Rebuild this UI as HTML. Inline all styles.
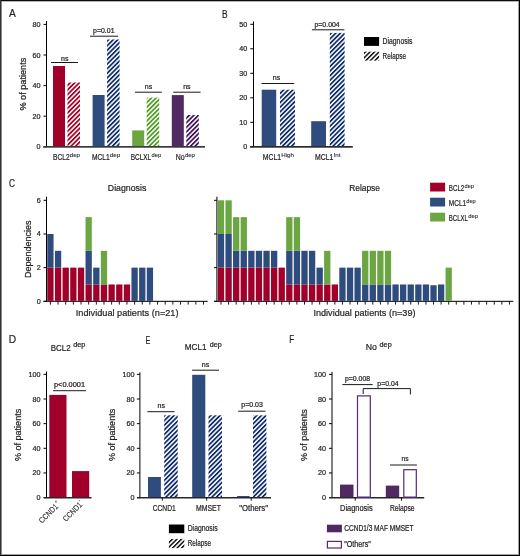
<!DOCTYPE html>
<html><head><meta charset="utf-8"><title>Figure</title>
<style>html,body{margin:0;padding:0;background:#fff;} body{width:520px;height:556px;overflow:hidden;font-family:"Liberation Sans", sans-serif;} svg{display:block;will-change:transform;} text{stroke:#231f20;stroke-width:0.22px;} text.sm{stroke-width:0.08px;} text.md{stroke-width:0.12px;}</style>
</head><body>
<svg width="520" height="556" viewBox="0 0 520 556" font-family="Liberation Sans, sans-serif">
<defs>
<pattern id="hR" width="3.25" height="3.25" patternUnits="userSpaceOnUse" patternTransform="rotate(45)"><rect width="1.75" height="3.25" fill="#a80024"/></pattern>
<pattern id="hB" width="3.25" height="3.25" patternUnits="userSpaceOnUse" patternTransform="rotate(45)"><rect width="1.75" height="3.25" fill="#0e2c6c"/></pattern>
<pattern id="hG" width="3.25" height="3.25" patternUnits="userSpaceOnUse" patternTransform="rotate(45)"><rect width="1.75" height="3.25" fill="#4e9b22"/></pattern>
<pattern id="hP" width="3.25" height="3.25" patternUnits="userSpaceOnUse" patternTransform="rotate(45)"><rect width="1.75" height="3.25" fill="#3c1258"/></pattern>
<pattern id="hK" width="3.2" height="3.2" patternUnits="userSpaceOnUse" patternTransform="rotate(45)"><rect width="1.4" height="3.2" fill="#000"/></pattern>
</defs>
<rect width="520" height="556" fill="#fff"/>
<text x="9.00" y="16.90" font-size="11.8" text-anchor="start" fill="#231f20" textLength="6.80" lengthAdjust="spacingAndGlyphs">A</text>
<line x1="46.5" y1="21" x2="46.5" y2="147.3" stroke="#000" stroke-width="1"/>
<line x1="43.5" y1="146.8" x2="46.5" y2="146.8" stroke="#000" stroke-width="1"/>
<text x="40.50" y="149.30" font-size="7.2" text-anchor="end" fill="#231f20">0</text>
<line x1="43.5" y1="116.20000000000002" x2="46.5" y2="116.20000000000002" stroke="#000" stroke-width="1"/>
<text x="40.50" y="118.70" font-size="7.2" text-anchor="end" fill="#231f20">20</text>
<line x1="43.5" y1="85.60000000000001" x2="46.5" y2="85.60000000000001" stroke="#000" stroke-width="1"/>
<text x="40.50" y="88.10" font-size="7.2" text-anchor="end" fill="#231f20">40</text>
<line x1="43.5" y1="55.000000000000014" x2="46.5" y2="55.000000000000014" stroke="#000" stroke-width="1"/>
<text x="40.50" y="57.50" font-size="7.2" text-anchor="end" fill="#231f20">60</text>
<line x1="43.5" y1="24.400000000000006" x2="46.5" y2="24.400000000000006" stroke="#000" stroke-width="1"/>
<text x="40.50" y="26.90" font-size="7.2" text-anchor="end" fill="#231f20">80</text>
<rect x="43.30" y="146.00" width="161.70" height="1.70" fill="#383838"/>
<text x="0" y="0" transform="translate(26.20,84.15) rotate(-90)" font-size="8.3" text-anchor="middle" fill="#231f20" textLength="52.90" lengthAdjust="spacingAndGlyphs">% of patients</text>
<rect x="53.00" y="66.00" width="12.00" height="80.10" fill="#a1002b"/>
<rect x="67.50" y="82.50" width="12.50" height="63.60" fill="url(#hR)"/>
<rect x="92.60" y="95.00" width="12.00" height="51.10" fill="#2e4c7e"/>
<rect x="107.10" y="39.50" width="12.50" height="106.60" fill="url(#hB)"/>
<rect x="132.20" y="130.40" width="12.00" height="15.70" fill="#6ca643"/>
<rect x="146.70" y="97.60" width="12.50" height="48.50" fill="url(#hG)"/>
<rect x="171.80" y="95.10" width="12.00" height="51.00" fill="#502862"/>
<rect x="186.30" y="115.00" width="12.50" height="31.10" fill="url(#hP)"/>
<line x1="51" y1="62.5" x2="78" y2="62.5" stroke="#1a1a1a" stroke-width="1.0"/>
<line x1="90" y1="36.2" x2="118" y2="36.2" stroke="#1a1a1a" stroke-width="1.0"/>
<line x1="135" y1="92.2" x2="161.8" y2="92.2" stroke="#1a1a1a" stroke-width="1.0"/>
<line x1="173.2" y1="92.2" x2="200.6" y2="92.2" stroke="#1a1a1a" stroke-width="1.0"/>
<text x="64.70" y="60.60" font-size="7.0" text-anchor="middle" fill="#231f20" textLength="7.40" lengthAdjust="spacingAndGlyphs">ns</text>
<text x="103.80" y="33.00" font-size="6.6" text-anchor="middle" fill="#231f20" textLength="21.50" lengthAdjust="spacingAndGlyphs">p=0.01</text>
<text x="148.50" y="89.30" font-size="7.0" text-anchor="middle" fill="#231f20" textLength="7.40" lengthAdjust="spacingAndGlyphs">ns</text>
<text x="186.90" y="89.30" font-size="7.0" text-anchor="middle" fill="#231f20" textLength="7.40" lengthAdjust="spacingAndGlyphs">ns</text>
<text x="53.00" y="160.00" font-size="8.3" text-anchor="start" fill="#231f20" textLength="16.60" lengthAdjust="spacingAndGlyphs">BCL2</text>
<text x="69.80" y="157.20" font-size="5.6" text-anchor="start" fill="#231f20" textLength="10.20" lengthAdjust="spacingAndGlyphs" class="sm">dep</text>
<text x="91.90" y="160.00" font-size="8.3" text-anchor="start" fill="#231f20" textLength="17.70" lengthAdjust="spacingAndGlyphs">MCL1</text>
<text x="109.80" y="157.20" font-size="5.6" text-anchor="start" fill="#231f20" textLength="10.60" lengthAdjust="spacingAndGlyphs" class="sm">dep</text>
<text x="130.80" y="160.00" font-size="8.3" text-anchor="start" fill="#231f20" textLength="20.40" lengthAdjust="spacingAndGlyphs">BCLXL</text>
<text x="151.40" y="157.20" font-size="5.6" text-anchor="start" fill="#231f20" textLength="9.80" lengthAdjust="spacingAndGlyphs" class="sm">dep</text>
<text x="175.80" y="160.00" font-size="8.3" text-anchor="start" fill="#231f20" textLength="8.90" lengthAdjust="spacingAndGlyphs">No</text>
<text x="184.90" y="157.20" font-size="5.6" text-anchor="start" fill="#231f20" textLength="10.10" lengthAdjust="spacingAndGlyphs" class="sm">dep</text>
<text x="222.00" y="18.30" font-size="11.8" text-anchor="start" fill="#231f20" textLength="5.60" lengthAdjust="spacingAndGlyphs">B</text>
<line x1="253.5" y1="21.4" x2="253.5" y2="147.3" stroke="#000" stroke-width="1"/>
<line x1="250.3" y1="146.8" x2="253.5" y2="146.8" stroke="#000" stroke-width="1"/>
<text x="247.20" y="149.30" font-size="7.2" text-anchor="end" fill="#231f20">0</text>
<line x1="250.3" y1="122.30000000000001" x2="253.5" y2="122.30000000000001" stroke="#000" stroke-width="1"/>
<text x="247.20" y="124.80" font-size="7.2" text-anchor="end" fill="#231f20">10</text>
<line x1="250.3" y1="97.80000000000001" x2="253.5" y2="97.80000000000001" stroke="#000" stroke-width="1"/>
<text x="247.20" y="100.30" font-size="7.2" text-anchor="end" fill="#231f20">20</text>
<line x1="250.3" y1="73.30000000000001" x2="253.5" y2="73.30000000000001" stroke="#000" stroke-width="1"/>
<text x="247.20" y="75.80" font-size="7.2" text-anchor="end" fill="#231f20">30</text>
<line x1="250.3" y1="48.80000000000001" x2="253.5" y2="48.80000000000001" stroke="#000" stroke-width="1"/>
<text x="247.20" y="51.30" font-size="7.2" text-anchor="end" fill="#231f20">40</text>
<line x1="250.3" y1="24.299999999999997" x2="253.5" y2="24.299999999999997" stroke="#000" stroke-width="1"/>
<text x="247.20" y="26.80" font-size="7.2" text-anchor="end" fill="#231f20">50</text>
<rect x="250.10" y="146.00" width="102.70" height="1.70" fill="#2a2a2a"/>
<rect x="261.70" y="89.70" width="14.50" height="56.40" fill="#2e4c7e"/>
<rect x="280.00" y="89.70" width="15.00" height="56.40" fill="url(#hB)"/>
<rect x="311.20" y="121.20" width="14.80" height="24.90" fill="#2e4c7e"/>
<rect x="329.80" y="32.90" width="14.80" height="113.20" fill="url(#hB)"/>
<line x1="261.5" y1="83.5" x2="294.2" y2="83.5" stroke="#1a1a1a" stroke-width="1.0"/>
<line x1="311.9" y1="29.8" x2="344.4" y2="29.8" stroke="#1a1a1a" stroke-width="1.0"/>
<text x="276.50" y="80.20" font-size="7.0" text-anchor="middle" fill="#231f20" textLength="7.40" lengthAdjust="spacingAndGlyphs">ns</text>
<text x="327.10" y="26.80" font-size="6.6" text-anchor="middle" fill="#231f20" textLength="25.30" lengthAdjust="spacingAndGlyphs">p=0.004</text>
<text x="262.80" y="159.80" font-size="8.3" text-anchor="start" fill="#231f20" textLength="18.20" lengthAdjust="spacingAndGlyphs">MCL1</text>
<text x="281.20" y="157.00" font-size="5.6" text-anchor="start" fill="#231f20" textLength="12.80" lengthAdjust="spacingAndGlyphs" class="sm">High</text>
<text x="315.00" y="159.80" font-size="8.3" text-anchor="start" fill="#231f20" textLength="18.40" lengthAdjust="spacingAndGlyphs">MCL1</text>
<text x="333.60" y="157.00" font-size="5.6" text-anchor="start" fill="#231f20" textLength="7.00" lengthAdjust="spacingAndGlyphs" class="sm">Int</text>
<rect x="364.00" y="37.00" width="15.10" height="8.90" fill="#000"/>
<rect x="364.00" y="51.70" width="15.10" height="8.90" fill="url(#hK)"/>
<text x="382.60" y="43.90" font-size="8.4" text-anchor="start" fill="#231f20" textLength="29.90" lengthAdjust="spacingAndGlyphs">Diagnosis</text>
<text x="382.60" y="58.90" font-size="8.4" text-anchor="start" fill="#231f20" textLength="23.40" lengthAdjust="spacingAndGlyphs">Relapse</text>
<text x="9.00" y="187.10" font-size="11.8" text-anchor="start" fill="#231f20" textLength="6.00" lengthAdjust="spacingAndGlyphs">C</text>
<line x1="46.5" y1="196.7" x2="46.5" y2="301.8" stroke="#000" stroke-width="1"/>
<line x1="43.5" y1="301.3" x2="46.5" y2="301.3" stroke="#000" stroke-width="1"/>
<text x="40.80" y="303.80" font-size="7.2" text-anchor="end" fill="#231f20">0</text>
<line x1="43.5" y1="267.64" x2="46.5" y2="267.64" stroke="#000" stroke-width="1"/>
<text x="40.80" y="270.14" font-size="7.2" text-anchor="end" fill="#231f20">2</text>
<line x1="43.5" y1="233.98000000000002" x2="46.5" y2="233.98000000000002" stroke="#000" stroke-width="1"/>
<text x="40.80" y="236.48" font-size="7.2" text-anchor="end" fill="#231f20">4</text>
<line x1="43.5" y1="200.32000000000002" x2="46.5" y2="200.32000000000002" stroke="#000" stroke-width="1"/>
<text x="40.80" y="202.82" font-size="7.2" text-anchor="end" fill="#231f20">6</text>
<rect x="43.50" y="300.80" width="164.20" height="1.10" fill="#151515"/>
<text x="0" y="0" transform="translate(31.00,249.20) rotate(-90)" font-size="9.6" text-anchor="middle" fill="#231f20" textLength="57.60" lengthAdjust="spacingAndGlyphs">Dependencies</text>
<rect x="47.25" y="267.64" width="6.30" height="33.26" fill="#a1002b"/>
<rect x="47.25" y="233.98" width="6.30" height="33.66" fill="#2e4c7e"/>
<line x1="50.4" y1="301.3" x2="50.4" y2="304.6" stroke="#000" stroke-width="0.9"/>
<rect x="54.91" y="267.64" width="6.30" height="33.26" fill="#a1002b"/>
<rect x="54.91" y="250.81" width="6.30" height="16.83" fill="#2e4c7e"/>
<line x1="58.055" y1="301.3" x2="58.055" y2="304.6" stroke="#000" stroke-width="0.9"/>
<rect x="62.56" y="267.64" width="6.30" height="33.26" fill="#a1002b"/>
<line x1="65.71" y1="301.3" x2="65.71" y2="304.6" stroke="#000" stroke-width="0.9"/>
<rect x="70.21" y="267.64" width="6.30" height="33.26" fill="#a1002b"/>
<line x1="73.365" y1="301.3" x2="73.365" y2="304.6" stroke="#000" stroke-width="0.9"/>
<rect x="77.87" y="267.64" width="6.30" height="33.26" fill="#a1002b"/>
<line x1="81.02" y1="301.3" x2="81.02" y2="304.6" stroke="#000" stroke-width="0.9"/>
<rect x="85.52" y="284.47" width="6.30" height="16.43" fill="#a1002b"/>
<rect x="85.52" y="250.81" width="6.30" height="33.66" fill="#2e4c7e"/>
<rect x="85.52" y="217.15" width="6.30" height="33.66" fill="#6ca643"/>
<line x1="88.675" y1="301.3" x2="88.675" y2="304.6" stroke="#000" stroke-width="0.9"/>
<rect x="93.18" y="284.47" width="6.30" height="16.43" fill="#a1002b"/>
<rect x="93.18" y="267.64" width="6.30" height="16.83" fill="#2e4c7e"/>
<line x1="96.33" y1="301.3" x2="96.33" y2="304.6" stroke="#000" stroke-width="0.9"/>
<rect x="100.83" y="284.47" width="6.30" height="16.43" fill="#a1002b"/>
<rect x="100.83" y="250.81" width="6.30" height="33.66" fill="#6ca643"/>
<line x1="103.985" y1="301.3" x2="103.985" y2="304.6" stroke="#000" stroke-width="0.9"/>
<rect x="108.49" y="284.47" width="6.30" height="16.43" fill="#a1002b"/>
<line x1="111.64" y1="301.3" x2="111.64" y2="304.6" stroke="#000" stroke-width="0.9"/>
<rect x="116.14" y="284.47" width="6.30" height="16.43" fill="#a1002b"/>
<line x1="119.29499999999999" y1="301.3" x2="119.29499999999999" y2="304.6" stroke="#000" stroke-width="0.9"/>
<rect x="123.80" y="284.47" width="6.30" height="16.43" fill="#a1002b"/>
<line x1="126.94999999999999" y1="301.3" x2="126.94999999999999" y2="304.6" stroke="#000" stroke-width="0.9"/>
<rect x="131.45" y="267.64" width="6.30" height="33.26" fill="#2e4c7e"/>
<line x1="134.605" y1="301.3" x2="134.605" y2="304.6" stroke="#000" stroke-width="0.9"/>
<rect x="139.11" y="267.64" width="6.30" height="33.26" fill="#2e4c7e"/>
<line x1="142.26" y1="301.3" x2="142.26" y2="304.6" stroke="#000" stroke-width="0.9"/>
<rect x="146.76" y="267.64" width="6.30" height="33.26" fill="#2e4c7e"/>
<line x1="149.915" y1="301.3" x2="149.915" y2="304.6" stroke="#000" stroke-width="0.9"/>
<line x1="157.57" y1="301.3" x2="157.57" y2="304.6" stroke="#000" stroke-width="0.9"/>
<line x1="165.225" y1="301.3" x2="165.225" y2="304.6" stroke="#000" stroke-width="0.9"/>
<line x1="172.88" y1="301.3" x2="172.88" y2="304.6" stroke="#000" stroke-width="0.9"/>
<line x1="180.535" y1="301.3" x2="180.535" y2="304.6" stroke="#000" stroke-width="0.9"/>
<line x1="188.19" y1="301.3" x2="188.19" y2="304.6" stroke="#000" stroke-width="0.9"/>
<line x1="195.845" y1="301.3" x2="195.845" y2="304.6" stroke="#000" stroke-width="0.9"/>
<line x1="203.5" y1="301.3" x2="203.5" y2="304.6" stroke="#000" stroke-width="0.9"/>
<text x="127.10" y="191.20" font-size="9.6" text-anchor="middle" fill="#231f20" textLength="38.50" lengthAdjust="spacingAndGlyphs">Diagnosis</text>
<text x="75.80" y="316.20" font-size="9.9" text-anchor="start" fill="#231f20" textLength="102.70" lengthAdjust="spacingAndGlyphs">Individual patients (n=21)</text>
<line x1="216.9" y1="196.8" x2="216.9" y2="301.8" stroke="#333" stroke-width="1.3"/>
<line x1="214" y1="301.3" x2="216.9" y2="301.3" stroke="#000" stroke-width="1"/>
<line x1="214" y1="267.64" x2="216.9" y2="267.64" stroke="#000" stroke-width="1"/>
<line x1="214" y1="233.98000000000002" x2="216.9" y2="233.98000000000002" stroke="#000" stroke-width="1"/>
<line x1="214" y1="200.32000000000002" x2="216.9" y2="200.32000000000002" stroke="#000" stroke-width="1"/>
<rect x="214.50" y="300.80" width="298.80" height="1.10" fill="#151515"/>
<rect x="217.85" y="267.64" width="6.30" height="33.26" fill="#a1002b"/>
<rect x="217.85" y="233.98" width="6.30" height="33.66" fill="#2e4c7e"/>
<rect x="217.85" y="200.32" width="6.30" height="33.66" fill="#6ca643"/>
<line x1="221.0" y1="301.3" x2="221.0" y2="304.6" stroke="#000" stroke-width="0.9"/>
<rect x="225.44" y="267.64" width="6.30" height="33.26" fill="#a1002b"/>
<rect x="225.44" y="233.98" width="6.30" height="33.66" fill="#2e4c7e"/>
<rect x="225.44" y="200.32" width="6.30" height="33.66" fill="#6ca643"/>
<line x1="228.59" y1="301.3" x2="228.59" y2="304.6" stroke="#000" stroke-width="0.9"/>
<rect x="233.03" y="267.64" width="6.30" height="33.26" fill="#a1002b"/>
<rect x="233.03" y="250.81" width="6.30" height="16.83" fill="#2e4c7e"/>
<rect x="233.03" y="217.15" width="6.30" height="33.66" fill="#6ca643"/>
<line x1="236.18" y1="301.3" x2="236.18" y2="304.6" stroke="#000" stroke-width="0.9"/>
<rect x="240.62" y="267.64" width="6.30" height="33.26" fill="#a1002b"/>
<rect x="240.62" y="250.81" width="6.30" height="16.83" fill="#2e4c7e"/>
<rect x="240.62" y="217.15" width="6.30" height="33.66" fill="#6ca643"/>
<line x1="243.77" y1="301.3" x2="243.77" y2="304.6" stroke="#000" stroke-width="0.9"/>
<rect x="248.21" y="267.64" width="6.30" height="33.26" fill="#a1002b"/>
<rect x="248.21" y="250.81" width="6.30" height="16.83" fill="#2e4c7e"/>
<line x1="251.36" y1="301.3" x2="251.36" y2="304.6" stroke="#000" stroke-width="0.9"/>
<rect x="255.80" y="267.64" width="6.30" height="33.26" fill="#a1002b"/>
<rect x="255.80" y="250.81" width="6.30" height="16.83" fill="#2e4c7e"/>
<line x1="258.95" y1="301.3" x2="258.95" y2="304.6" stroke="#000" stroke-width="0.9"/>
<rect x="263.39" y="267.64" width="6.30" height="33.26" fill="#a1002b"/>
<rect x="263.39" y="250.81" width="6.30" height="16.83" fill="#2e4c7e"/>
<line x1="266.54" y1="301.3" x2="266.54" y2="304.6" stroke="#000" stroke-width="0.9"/>
<rect x="270.98" y="267.64" width="6.30" height="33.26" fill="#a1002b"/>
<rect x="270.98" y="250.81" width="6.30" height="16.83" fill="#2e4c7e"/>
<line x1="274.13" y1="301.3" x2="274.13" y2="304.6" stroke="#000" stroke-width="0.9"/>
<rect x="278.57" y="267.64" width="6.30" height="33.26" fill="#a1002b"/>
<line x1="281.72" y1="301.3" x2="281.72" y2="304.6" stroke="#000" stroke-width="0.9"/>
<rect x="286.16" y="284.47" width="6.30" height="16.43" fill="#a1002b"/>
<rect x="286.16" y="250.81" width="6.30" height="33.66" fill="#2e4c7e"/>
<rect x="286.16" y="217.15" width="6.30" height="33.66" fill="#6ca643"/>
<line x1="289.31" y1="301.3" x2="289.31" y2="304.6" stroke="#000" stroke-width="0.9"/>
<rect x="293.75" y="284.47" width="6.30" height="16.43" fill="#a1002b"/>
<rect x="293.75" y="250.81" width="6.30" height="33.66" fill="#2e4c7e"/>
<rect x="293.75" y="217.15" width="6.30" height="33.66" fill="#6ca643"/>
<line x1="296.9" y1="301.3" x2="296.9" y2="304.6" stroke="#000" stroke-width="0.9"/>
<rect x="301.34" y="284.47" width="6.30" height="16.43" fill="#a1002b"/>
<rect x="301.34" y="250.81" width="6.30" height="33.66" fill="#2e4c7e"/>
<line x1="304.49" y1="301.3" x2="304.49" y2="304.6" stroke="#000" stroke-width="0.9"/>
<rect x="308.93" y="284.47" width="6.30" height="16.43" fill="#a1002b"/>
<rect x="308.93" y="250.81" width="6.30" height="33.66" fill="#2e4c7e"/>
<line x1="312.08" y1="301.3" x2="312.08" y2="304.6" stroke="#000" stroke-width="0.9"/>
<rect x="316.52" y="284.47" width="6.30" height="16.43" fill="#a1002b"/>
<rect x="316.52" y="267.64" width="6.30" height="16.83" fill="#2e4c7e"/>
<line x1="319.67" y1="301.3" x2="319.67" y2="304.6" stroke="#000" stroke-width="0.9"/>
<rect x="324.11" y="284.47" width="6.30" height="16.43" fill="#a1002b"/>
<rect x="324.11" y="250.81" width="6.30" height="33.66" fill="#6ca643"/>
<line x1="327.26" y1="301.3" x2="327.26" y2="304.6" stroke="#000" stroke-width="0.9"/>
<rect x="331.70" y="284.47" width="6.30" height="16.43" fill="#a1002b"/>
<line x1="334.85" y1="301.3" x2="334.85" y2="304.6" stroke="#000" stroke-width="0.9"/>
<rect x="339.29" y="267.64" width="6.30" height="33.26" fill="#2e4c7e"/>
<line x1="342.44" y1="301.3" x2="342.44" y2="304.6" stroke="#000" stroke-width="0.9"/>
<rect x="346.88" y="267.64" width="6.30" height="33.26" fill="#2e4c7e"/>
<line x1="350.03" y1="301.3" x2="350.03" y2="304.6" stroke="#000" stroke-width="0.9"/>
<rect x="354.47" y="267.64" width="6.30" height="33.26" fill="#2e4c7e"/>
<line x1="357.62" y1="301.3" x2="357.62" y2="304.6" stroke="#000" stroke-width="0.9"/>
<rect x="362.06" y="284.47" width="6.30" height="16.43" fill="#2e4c7e"/>
<rect x="362.06" y="250.81" width="6.30" height="33.66" fill="#6ca643"/>
<line x1="365.21000000000004" y1="301.3" x2="365.21000000000004" y2="304.6" stroke="#000" stroke-width="0.9"/>
<rect x="369.65" y="284.47" width="6.30" height="16.43" fill="#2e4c7e"/>
<rect x="369.65" y="250.81" width="6.30" height="33.66" fill="#6ca643"/>
<line x1="372.8" y1="301.3" x2="372.8" y2="304.6" stroke="#000" stroke-width="0.9"/>
<rect x="377.24" y="284.47" width="6.30" height="16.43" fill="#2e4c7e"/>
<rect x="377.24" y="250.81" width="6.30" height="33.66" fill="#6ca643"/>
<line x1="380.39" y1="301.3" x2="380.39" y2="304.6" stroke="#000" stroke-width="0.9"/>
<rect x="384.83" y="284.47" width="6.30" height="16.43" fill="#2e4c7e"/>
<rect x="384.83" y="250.81" width="6.30" height="33.66" fill="#6ca643"/>
<line x1="387.98" y1="301.3" x2="387.98" y2="304.6" stroke="#000" stroke-width="0.9"/>
<rect x="392.42" y="284.47" width="6.30" height="16.43" fill="#2e4c7e"/>
<line x1="395.57" y1="301.3" x2="395.57" y2="304.6" stroke="#000" stroke-width="0.9"/>
<rect x="400.01" y="284.47" width="6.30" height="16.43" fill="#2e4c7e"/>
<line x1="403.15999999999997" y1="301.3" x2="403.15999999999997" y2="304.6" stroke="#000" stroke-width="0.9"/>
<rect x="407.60" y="284.47" width="6.30" height="16.43" fill="#2e4c7e"/>
<line x1="410.75" y1="301.3" x2="410.75" y2="304.6" stroke="#000" stroke-width="0.9"/>
<rect x="415.19" y="284.47" width="6.30" height="16.43" fill="#2e4c7e"/>
<line x1="418.34000000000003" y1="301.3" x2="418.34000000000003" y2="304.6" stroke="#000" stroke-width="0.9"/>
<rect x="422.78" y="284.47" width="6.30" height="16.43" fill="#2e4c7e"/>
<line x1="425.93" y1="301.3" x2="425.93" y2="304.6" stroke="#000" stroke-width="0.9"/>
<rect x="430.37" y="285.23" width="6.30" height="15.67" fill="#2e4c7e"/>
<line x1="433.52" y1="301.3" x2="433.52" y2="304.6" stroke="#000" stroke-width="0.9"/>
<rect x="437.96" y="284.47" width="6.30" height="16.43" fill="#2e4c7e"/>
<line x1="441.11" y1="301.3" x2="441.11" y2="304.6" stroke="#000" stroke-width="0.9"/>
<rect x="445.55" y="267.64" width="6.30" height="33.26" fill="#6ca643"/>
<line x1="448.7" y1="301.3" x2="448.7" y2="304.6" stroke="#000" stroke-width="0.9"/>
<line x1="456.28999999999996" y1="301.3" x2="456.28999999999996" y2="304.6" stroke="#000" stroke-width="0.9"/>
<line x1="463.88" y1="301.3" x2="463.88" y2="304.6" stroke="#000" stroke-width="0.9"/>
<line x1="471.47" y1="301.3" x2="471.47" y2="304.6" stroke="#000" stroke-width="0.9"/>
<line x1="479.06" y1="301.3" x2="479.06" y2="304.6" stroke="#000" stroke-width="0.9"/>
<line x1="486.65" y1="301.3" x2="486.65" y2="304.6" stroke="#000" stroke-width="0.9"/>
<line x1="494.24" y1="301.3" x2="494.24" y2="304.6" stroke="#000" stroke-width="0.9"/>
<line x1="501.83" y1="301.3" x2="501.83" y2="304.6" stroke="#000" stroke-width="0.9"/>
<line x1="509.42" y1="301.3" x2="509.42" y2="304.6" stroke="#000" stroke-width="0.9"/>
<text x="364.60" y="191.20" font-size="9.6" text-anchor="middle" fill="#231f20" textLength="30.80" lengthAdjust="spacingAndGlyphs">Relapse</text>
<text x="313.40" y="316.20" font-size="9.9" text-anchor="start" fill="#231f20" textLength="102.10" lengthAdjust="spacingAndGlyphs">Individual patients (n=39)</text>
<rect x="430.10" y="182.70" width="15.00" height="8.80" fill="#a1002b"/>
<text x="448.80" y="191.10" font-size="8.3" text-anchor="start" fill="#231f20" textLength="15.50" lengthAdjust="spacingAndGlyphs">BCL2</text>
<text x="464.50" y="188.30" font-size="5.6" text-anchor="start" fill="#231f20" textLength="9.50" lengthAdjust="spacingAndGlyphs" class="sm">dep</text>
<rect x="430.10" y="197.70" width="15.00" height="8.80" fill="#2e4c7e"/>
<text x="448.80" y="206.10" font-size="8.3" text-anchor="start" fill="#231f20" textLength="17.30" lengthAdjust="spacingAndGlyphs">MCL1</text>
<text x="466.30" y="203.30" font-size="5.6" text-anchor="start" fill="#231f20" textLength="9.50" lengthAdjust="spacingAndGlyphs" class="sm">dep</text>
<rect x="430.10" y="212.70" width="15.00" height="8.80" fill="#6ca643"/>
<text x="448.80" y="221.10" font-size="8.3" text-anchor="start" fill="#231f20" textLength="19.20" lengthAdjust="spacingAndGlyphs">BCLXL</text>
<text x="468.20" y="218.30" font-size="5.6" text-anchor="start" fill="#231f20" textLength="9.80" lengthAdjust="spacingAndGlyphs" class="sm">dep</text>
<text x="8.80" y="343.30" font-size="11.8" text-anchor="start" fill="#231f20" textLength="7.40" lengthAdjust="spacingAndGlyphs">D</text>
<line x1="46.5" y1="371.5" x2="46.5" y2="498" stroke="#000" stroke-width="1"/>
<line x1="43.5" y1="497.6" x2="46.5" y2="497.6" stroke="#000" stroke-width="1"/>
<text x="40.60" y="500.10" font-size="7.2" text-anchor="end" fill="#231f20">0</text>
<line x1="43.5" y1="472.95000000000005" x2="46.5" y2="472.95000000000005" stroke="#000" stroke-width="1"/>
<text x="40.60" y="475.45" font-size="7.2" text-anchor="end" fill="#231f20">20</text>
<line x1="43.5" y1="448.3" x2="46.5" y2="448.3" stroke="#000" stroke-width="1"/>
<text x="40.60" y="450.80" font-size="7.2" text-anchor="end" fill="#231f20">40</text>
<line x1="43.5" y1="423.65000000000003" x2="46.5" y2="423.65000000000003" stroke="#000" stroke-width="1"/>
<text x="40.60" y="426.15" font-size="7.2" text-anchor="end" fill="#231f20">60</text>
<line x1="43.5" y1="399.0" x2="46.5" y2="399.0" stroke="#000" stroke-width="1"/>
<text x="40.60" y="401.50" font-size="7.2" text-anchor="end" fill="#231f20">80</text>
<line x1="43.5" y1="374.35" x2="46.5" y2="374.35" stroke="#000" stroke-width="1"/>
<text x="40.60" y="376.85" font-size="7.2" text-anchor="end" fill="#231f20">100</text>
<rect x="43.80" y="497.00" width="47.70" height="1.50" fill="#262626"/>
<text x="0" y="0" transform="translate(20.80,434.95) rotate(-90)" font-size="8.3" text-anchor="middle" fill="#231f20" textLength="52.30" lengthAdjust="spacingAndGlyphs">% of patients</text>
<rect x="49.30" y="394.90" width="17.20" height="102.20" fill="#a1002b"/>
<rect x="72.00" y="471.10" width="17.20" height="26.00" fill="#a1002b"/>
<line x1="53.1" y1="390.7" x2="86" y2="390.7" stroke="#1a1a1a" stroke-width="1.0"/>
<text x="69.50" y="387.10" font-size="6.6" text-anchor="middle" fill="#231f20" textLength="31.00" lengthAdjust="spacingAndGlyphs">p&lt;0.0001</text>
<text x="50.80" y="350.80" font-size="9.4" text-anchor="start" fill="#231f20" textLength="19.90" lengthAdjust="spacingAndGlyphs">BCL2</text>
<text x="73.30" y="347.20" font-size="6.4" text-anchor="start" fill="#231f20" textLength="12.10" lengthAdjust="spacingAndGlyphs">dep</text>
<g transform="translate(58.8,507.0) rotate(-45)"><text x="0" y="0" font-size="8.0" text-anchor="end" fill="#231f20" class="md" textLength="23.6" lengthAdjust="spacingAndGlyphs">CCND1</text><text x="0.4" y="-4.4" font-size="4.6" fill="#231f20" class="sm">+</text></g>
<g transform="translate(82.8,505.4) rotate(-45)"><text x="0" y="0" font-size="8.0" text-anchor="end" fill="#231f20" class="md" textLength="23.6" lengthAdjust="spacingAndGlyphs">CCND1</text><text x="0.4" y="-4.4" font-size="4.6" fill="#231f20" class="sm">-</text></g>
<text x="145.40" y="343.50" font-size="11.8" text-anchor="start" fill="#231f20" textLength="4.80" lengthAdjust="spacingAndGlyphs">E</text>
<line x1="139.9" y1="372.3" x2="139.9" y2="498" stroke="#000" stroke-width="1"/>
<line x1="136.9" y1="497.6" x2="139.9" y2="497.6" stroke="#000" stroke-width="1"/>
<text x="134.60" y="500.10" font-size="7.2" text-anchor="end" fill="#231f20">0</text>
<line x1="136.9" y1="472.95000000000005" x2="139.9" y2="472.95000000000005" stroke="#000" stroke-width="1"/>
<text x="134.60" y="475.45" font-size="7.2" text-anchor="end" fill="#231f20">20</text>
<line x1="136.9" y1="448.3" x2="139.9" y2="448.3" stroke="#000" stroke-width="1"/>
<text x="134.60" y="450.80" font-size="7.2" text-anchor="end" fill="#231f20">40</text>
<line x1="136.9" y1="423.65000000000003" x2="139.9" y2="423.65000000000003" stroke="#000" stroke-width="1"/>
<text x="134.60" y="426.15" font-size="7.2" text-anchor="end" fill="#231f20">60</text>
<line x1="136.9" y1="399.0" x2="139.9" y2="399.0" stroke="#000" stroke-width="1"/>
<text x="134.60" y="401.50" font-size="7.2" text-anchor="end" fill="#231f20">80</text>
<line x1="136.9" y1="374.35" x2="139.9" y2="374.35" stroke="#000" stroke-width="1"/>
<text x="134.60" y="376.85" font-size="7.2" text-anchor="end" fill="#231f20">100</text>
<rect x="137.30" y="497.00" width="133.70" height="1.50" fill="#262626"/>
<text x="0" y="0" transform="translate(115.00,434.95) rotate(-90)" font-size="8.3" text-anchor="middle" fill="#231f20" textLength="52.30" lengthAdjust="spacingAndGlyphs">% of patients</text>
<text x="184.80" y="349.80" font-size="9.4" text-anchor="start" fill="#231f20" textLength="21.70" lengthAdjust="spacingAndGlyphs">MCL1</text>
<text x="209.80" y="346.90" font-size="6.4" text-anchor="start" fill="#231f20" textLength="12.00" lengthAdjust="spacingAndGlyphs">dep</text>
<rect x="148.00" y="477.00" width="12.90" height="20.10" fill="#2e4c7e"/>
<rect x="164.20" y="415.30" width="13.50" height="81.80" fill="url(#hB)"/>
<rect x="192.20" y="374.80" width="13.10" height="122.30" fill="#2e4c7e"/>
<rect x="208.50" y="415.30" width="13.50" height="81.80" fill="url(#hB)"/>
<rect x="237.10" y="496.00" width="12.60" height="1.10" fill="#2e4c7e"/>
<rect x="253.00" y="415.30" width="13.40" height="81.80" fill="url(#hB)"/>
<line x1="162.3" y1="497.6" x2="162.3" y2="500.7" stroke="#000" stroke-width="0.9"/>
<line x1="206.7" y1="497.6" x2="206.7" y2="500.7" stroke="#000" stroke-width="0.9"/>
<line x1="251.2" y1="497.6" x2="251.2" y2="500.7" stroke="#000" stroke-width="0.9"/>
<line x1="147.4" y1="411.7" x2="174.6" y2="411.7" stroke="#1a1a1a" stroke-width="1.0"/>
<text x="161.20" y="408.20" font-size="7.0" text-anchor="middle" fill="#231f20" textLength="7.40" lengthAdjust="spacingAndGlyphs">ns</text>
<line x1="192.1" y1="370.2" x2="219" y2="370.2" stroke="#1a1a1a" stroke-width="1.0"/>
<text x="205.50" y="366.80" font-size="7.0" text-anchor="middle" fill="#231f20" textLength="7.40" lengthAdjust="spacingAndGlyphs">ns</text>
<line x1="238.2" y1="411.2" x2="265.5" y2="411.2" stroke="#1a1a1a" stroke-width="1.0"/>
<text x="252.10" y="407.30" font-size="6.6" text-anchor="middle" fill="#231f20" textLength="21.50" lengthAdjust="spacingAndGlyphs">p=0.03</text>
<text x="152.70" y="510.50" font-size="8.4" text-anchor="start" fill="#231f20" textLength="23.00" lengthAdjust="spacingAndGlyphs">CCND1</text>
<text x="196.10" y="510.50" font-size="8.4" text-anchor="start" fill="#231f20" textLength="24.80" lengthAdjust="spacingAndGlyphs">MMSET</text>
<text x="239.20" y="510.50" font-size="8.4" text-anchor="start" fill="#231f20" textLength="28.80" lengthAdjust="spacingAndGlyphs">"Others"</text>
<rect x="168.90" y="524.50" width="15.40" height="8.70" fill="#000"/>
<rect x="168.90" y="538.90" width="15.40" height="9.20" fill="url(#hK)"/>
<text x="187.70" y="531.20" font-size="8.4" text-anchor="start" fill="#231f20" textLength="30.00" lengthAdjust="spacingAndGlyphs">Diagnosis</text>
<text x="187.70" y="545.80" font-size="8.4" text-anchor="start" fill="#231f20" textLength="23.30" lengthAdjust="spacingAndGlyphs">Relapse</text>
<text x="289.20" y="343.10" font-size="11.8" text-anchor="start" fill="#231f20" textLength="5.00" lengthAdjust="spacingAndGlyphs">F</text>
<line x1="332.0" y1="371.8" x2="332.0" y2="498" stroke="#000" stroke-width="1"/>
<line x1="329" y1="497.6" x2="332" y2="497.6" stroke="#000" stroke-width="1"/>
<text x="325.90" y="500.10" font-size="7.2" text-anchor="end" fill="#231f20">0</text>
<line x1="329" y1="472.95000000000005" x2="332" y2="472.95000000000005" stroke="#000" stroke-width="1"/>
<text x="325.90" y="475.45" font-size="7.2" text-anchor="end" fill="#231f20">20</text>
<line x1="329" y1="448.3" x2="332" y2="448.3" stroke="#000" stroke-width="1"/>
<text x="325.90" y="450.80" font-size="7.2" text-anchor="end" fill="#231f20">40</text>
<line x1="329" y1="423.65000000000003" x2="332" y2="423.65000000000003" stroke="#000" stroke-width="1"/>
<text x="325.90" y="426.15" font-size="7.2" text-anchor="end" fill="#231f20">60</text>
<line x1="329" y1="399.0" x2="332" y2="399.0" stroke="#000" stroke-width="1"/>
<text x="325.90" y="401.50" font-size="7.2" text-anchor="end" fill="#231f20">80</text>
<line x1="329" y1="374.35" x2="332" y2="374.35" stroke="#000" stroke-width="1"/>
<text x="325.90" y="376.85" font-size="7.2" text-anchor="end" fill="#231f20">100</text>
<rect x="329.40" y="497.00" width="94.80" height="1.50" fill="#262626"/>
<text x="0" y="0" transform="translate(306.80,435.20) rotate(-90)" font-size="8.3" text-anchor="middle" fill="#231f20" textLength="51.80" lengthAdjust="spacingAndGlyphs">% of patients</text>
<text x="365.80" y="349.70" font-size="9.4" text-anchor="start" fill="#231f20" textLength="11.20" lengthAdjust="spacingAndGlyphs">No</text>
<text x="379.60" y="346.80" font-size="6.4" text-anchor="start" fill="#231f20" textLength="12.10" lengthAdjust="spacingAndGlyphs">dep</text>
<rect x="340.00" y="484.60" width="13.50" height="12.50" fill="#502862"/>
<rect x="357.50" y="395.90" width="12.80" height="101.20" fill="#fff" stroke="#57297a" stroke-width="1.2"/>
<rect x="385.80" y="485.60" width="13.40" height="11.50" fill="#502862"/>
<rect x="403.80" y="469.70" width="12.50" height="27.40" fill="#fff" stroke="#57297a" stroke-width="1.2"/>
<line x1="355.2" y1="497.6" x2="355.2" y2="500.7" stroke="#000" stroke-width="0.9"/>
<line x1="401.5" y1="497.6" x2="401.5" y2="500.7" stroke="#000" stroke-width="0.9"/>
<line x1="342.3" y1="384.6" x2="372.7" y2="384.6" stroke="#1a1a1a" stroke-width="1.0"/>
<text x="357.50" y="380.80" font-size="6.6" text-anchor="middle" fill="#231f20" textLength="25.20" lengthAdjust="spacingAndGlyphs">p=0.008</text>
<path d="M363.2,394 V388.6 H410.4 V394.5" fill="none" stroke="#1a1a1a" stroke-width="1.0"/>
<text x="388.00" y="385.70" font-size="6.6" text-anchor="middle" fill="#231f20" textLength="21.30" lengthAdjust="spacingAndGlyphs">p=0.04</text>
<line x1="390" y1="465" x2="416.9" y2="465" stroke="#1a1a1a" stroke-width="1.0"/>
<text x="405.00" y="461.30" font-size="7.0" text-anchor="middle" fill="#231f20" textLength="7.00" lengthAdjust="spacingAndGlyphs">ns</text>
<text x="340.00" y="510.60" font-size="8.4" text-anchor="start" fill="#231f20" textLength="32.70" lengthAdjust="spacingAndGlyphs">Diagnosis</text>
<text x="390.00" y="510.60" font-size="8.4" text-anchor="start" fill="#231f20" textLength="24.60" lengthAdjust="spacingAndGlyphs">Relapse</text>
<rect x="326.90" y="524.70" width="15.00" height="7.60" fill="#502862"/>
<rect x="327.40" y="541.40" width="14.00" height="6.60" fill="#fff" stroke="#57297a" stroke-width="1.2"/>
<text x="344.20" y="531.20" font-size="8.4" text-anchor="start" fill="#231f20" textLength="69.30" lengthAdjust="spacingAndGlyphs">CCND1/3 MAF MMSET</text>
<text x="344.20" y="546.50" font-size="8.4" text-anchor="start" fill="#231f20" textLength="26.60" lengthAdjust="spacingAndGlyphs">"Others"</text>
<rect x="0" y="0" width="520" height="1" fill="#0c0c0c"/><rect x="0" y="1" width="520" height="1" fill="#b5b5b5"/>
<rect x="0" y="0" width="1" height="556" fill="#333"/><rect x="1" y="1" width="1" height="555" fill="#888"/>
<rect x="519" y="0" width="1" height="556" fill="#000"/><rect x="518" y="1" width="1" height="554" fill="#a0a0a0"/>
<rect x="0" y="555" width="520" height="1" fill="#000"/><rect x="1" y="554" width="518" height="1" fill="#a0a0a0"/>
</svg>
</body></html>
